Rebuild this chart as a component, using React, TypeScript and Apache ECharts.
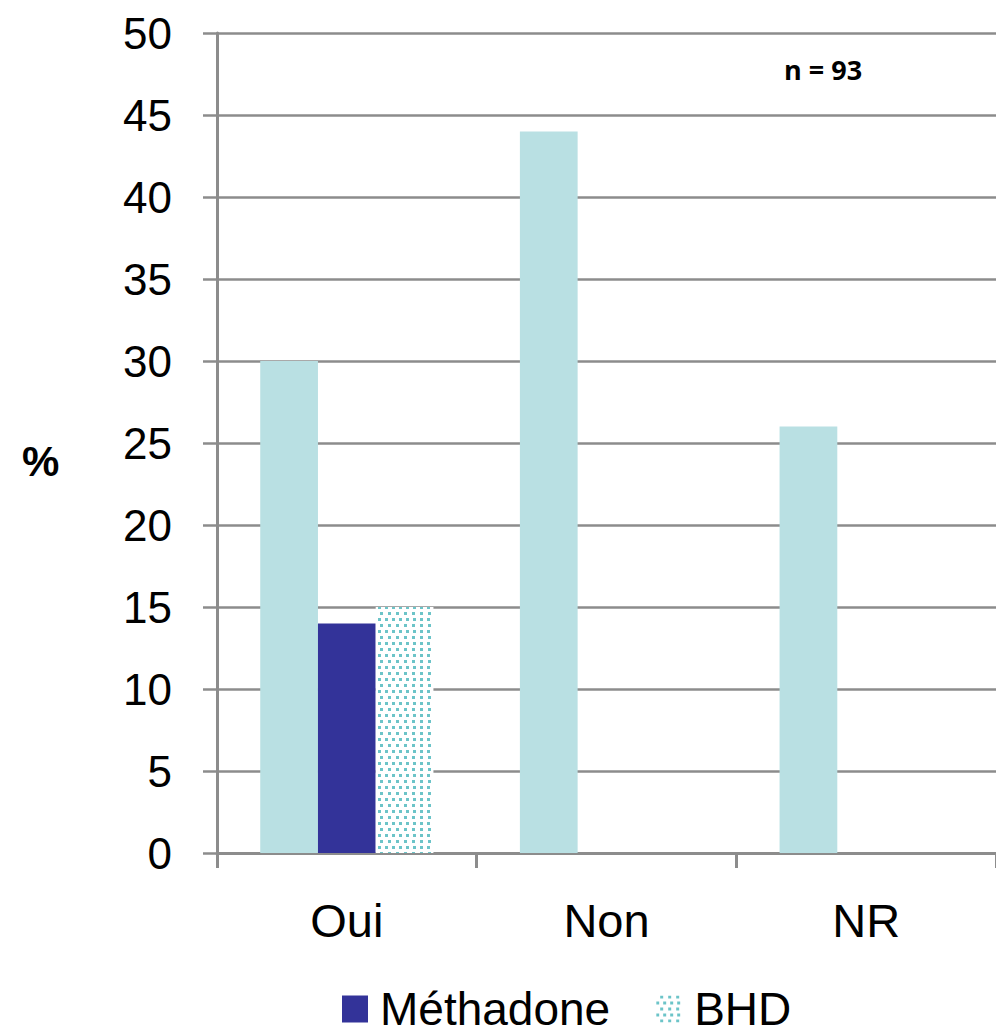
import React, { useEffect, useRef } from "react";
import * as echarts from "echarts";

const categories = ["Oui", "Non", "NR"];
const totalValues = [30, 44, 26];
const methadoneValues = [14, null, null];
const bhdValues = [15, null, null];
const legendItems = ["Méthadone", "BHD"];

export default function App() {
  const ref = useRef<HTMLDivElement>(null);
  useEffect(() => {
    if (!ref.current) return;
    const chart = echarts.init(ref.current, null, { renderer: "svg" });
    const axisColor = "#8c8c8c";
    chart.setOption({
      animation: false,
      backgroundColor: "#ffffff",
      grid: { left: 217, right: 0, top: 33, bottom: 182, containLabel: false },
      legend: {
        data: legendItems,
        left: 342,
        top: 986,
        padding: 0,
        itemWidth: 26,
        itemHeight: 27,
        itemGap: 46,
        icon: "rect",
        textStyle: {
          fontFamily: "Liberation Sans, Arial, sans-serif",
          fontSize: 46,
          lineHeight: 46,
          color: "#000",
          padding: [0, 0, 0, 7],
        },
      },
      xAxis: {
        type: "category",
        data: categories,
        axisLine: { lineStyle: { color: axisColor, width: 3 } },
        axisTick: { show: true, length: 15, lineStyle: { color: axisColor, width: 3 } },
        axisLabel: {
          margin: 44,
          fontFamily: "Liberation Sans, Arial, sans-serif",
          fontSize: 47,
          color: "#000",
        },
      },
      yAxis: {
        type: "value",
        min: 0,
        max: 50,
        interval: 5,
        axisLine: { show: true, lineStyle: { color: axisColor, width: 3 } },
        axisTick: { show: true, length: 14, lineStyle: { color: axisColor, width: 2.5 } },
        splitLine: { lineStyle: { color: axisColor, width: 2.5 } },
        axisLabel: {
          margin: 45,
          fontFamily: "Liberation Sans, Arial, sans-serif",
          fontSize: 44,
          color: "#000",
        },
      },
      series: [
        {
          name: "Total",
          type: "bar",
          data: totalValues,
          barGap: "0%",
          barCategoryGap: "33.3%",
          itemStyle: { color: "#b9e0e3" },
        },
        {
          name: "Méthadone",
          type: "bar",
          data: methadoneValues,
          itemStyle: { color: "#333399" },
        },
        {
          name: "BHD",
          type: "bar",
          data: bhdValues,
          itemStyle: {
            color: "#ffffff",
            decal: {
              symbol: "rect",
              symbolSize: 1,
              color: "#6cc4c8",
              dashArrayX: [[3, 4], [0, 3.5, 3, 0.5]],
              dashArrayY: [3, 3],
              rotation: 0,
            },
          },
        },
      ],
      graphic: [
        {
          type: "text",
          left: 22,
          top: 440,
          style: {
            text: "%",
            fontFamily: "Liberation Sans, Arial, sans-serif",
            fontWeight: "bold",
            fontSize: 42,
            fill: "#000",
          },
        },
        {
          type: "text",
          left: 784,
          top: 56,
          style: {
            text: "n = 93",
            fontFamily: "Open Sans, sans-serif",
            fontWeight: "bold",
            fontSize: 27,
            fill: "#000",
          },
        },
      ],
    });
    return () => chart.dispose();
  }, []);
  return <div ref={ref} style={{ width: 996, height: 1035, position: "absolute", left: 0, top: 0 }} />;
}
